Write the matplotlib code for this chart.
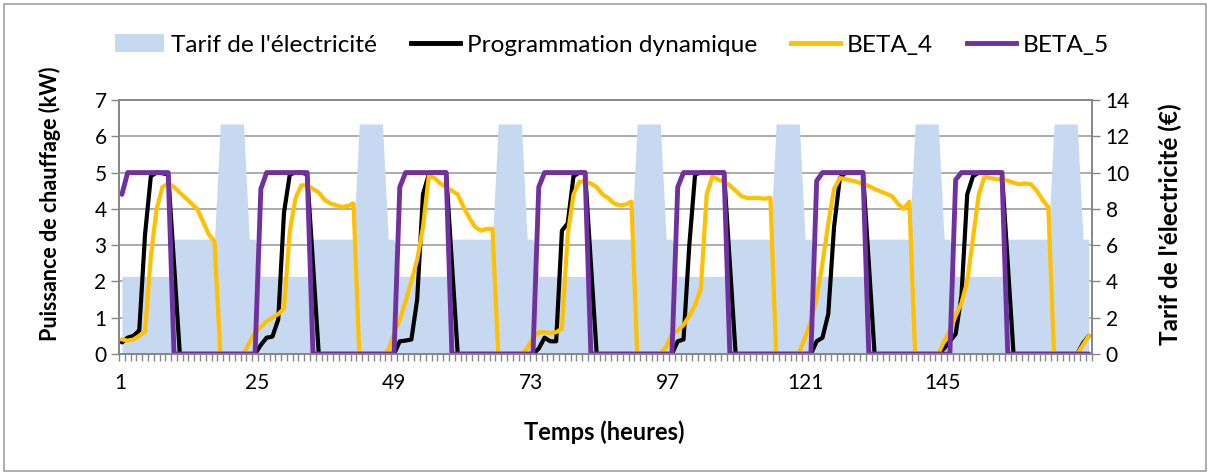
import numpy as np
import matplotlib
matplotlib.use("Agg")
import matplotlib.pyplot as plt
from matplotlib.patches import Patch, Rectangle
from matplotlib.lines import Line2D

# heures 1..168 (7 jours)
heures = np.arange(1, 169)

# tarif de l'électricité (€), axe de droite
tarif = [
    4.28, 4.28, 4.28, 4.28, 4.28, 4.28, 4.28, 4.28, 4.28, 6.33, 6.33, 6.33, 6.33, 6.33, 6.33, 6.33, 6.33, 12.68, 12.68, 12.68, 12.68, 12.68, 6.33, 6.33,
    4.28, 4.28, 4.28, 4.28, 4.28, 4.28, 4.28, 4.28, 4.28, 6.33, 6.33, 6.33, 6.33, 6.33, 6.33, 6.33, 6.33, 12.68, 12.68, 12.68, 12.68, 12.68, 6.33, 6.33,
    4.28, 4.28, 4.28, 4.28, 4.28, 4.28, 4.28, 4.28, 4.28, 6.33, 6.33, 6.33, 6.33, 6.33, 6.33, 6.33, 6.33, 12.68, 12.68, 12.68, 12.68, 12.68, 6.33, 6.33,
    4.28, 4.28, 4.28, 4.28, 4.28, 4.28, 4.28, 4.28, 4.28, 6.33, 6.33, 6.33, 6.33, 6.33, 6.33, 6.33, 6.33, 12.68, 12.68, 12.68, 12.68, 12.68, 6.33, 6.33,
    4.28, 4.28, 4.28, 4.28, 4.28, 4.28, 4.28, 4.28, 4.28, 6.33, 6.33, 6.33, 6.33, 6.33, 6.33, 6.33, 6.33, 12.68, 12.68, 12.68, 12.68, 12.68, 6.33, 6.33,
    4.28, 4.28, 4.28, 4.28, 4.28, 4.28, 4.28, 4.28, 4.28, 6.33, 6.33, 6.33, 6.33, 6.33, 6.33, 6.33, 6.33, 12.68, 12.68, 12.68, 12.68, 12.68, 6.33, 6.33,
    4.28, 4.28, 4.28, 4.28, 4.28, 4.28, 4.28, 4.28, 4.28, 6.33, 6.33, 6.33, 6.33, 6.33, 6.33, 6.33, 6.33, 12.68, 12.68, 12.68, 12.68, 12.68, 6.33, 6.33,
]

# puissance de chauffage (kW)
prog_dyn = [
    0.32, 0.45, 0.5, 0.65, 3.3, 4.9, 5.0, 4.98, 4.95, 2.5, 0, 0, 0, 0, 0, 0, 0, 0, 0, 0, 0, 0, 0, 0,
    0.25, 0.45, 0.48, 0.95, 3.9, 4.95, 5.0, 5.0, 4.95, 2.5, 0, 0, 0, 0, 0, 0, 0, 0, 0, 0, 0, 0, 0, 0,
    0.35, 0.37, 0.4, 1.5, 4.4, 4.95, 5.0, 5.0, 5.0, 2.5, 0, 0, 0, 0, 0, 0, 0, 0, 0, 0, 0, 0, 0, 0,
    0.15, 0.45, 0.35, 0.35, 3.4, 3.6, 4.9, 5.0, 5.0, 2.5, 0, 0, 0, 0, 0, 0, 0, 0, 0, 0, 0, 0, 0, 0,
    0.35, 0.4, 3.0, 4.95, 5.0, 5.0, 5.0, 5.0, 5.0, 2.5, 0, 0, 0, 0, 0, 0, 0, 0, 0, 0, 0, 0, 0, 0,
    0.35, 0.45, 1.1, 3.5, 4.85, 5.0, 5.0, 5.0, 5.0, 2.5, 0, 0, 0, 0, 0, 0, 0, 0, 0, 0, 0, 0, 0.15, 0.35,
    0.55, 1.6, 4.4, 4.9, 5.0, 5.0, 5.0, 5.0, 5.0, 2.5, 0, 0, 0, 0, 0, 0, 0, 0, 0, 0, 0, 0, 0.3, 0.5,
]

beta_4 = [
    0.4, 0.37, 0.4, 0.5, 0.62, 2.7, 4.0, 4.6, 4.7, 4.6, 4.45, 4.3, 4.15, 4.0, 3.65, 3.3, 3.1, 0, 0, 0, 0, 0, 0.3, 0.6,
    0.75, 0.9, 1.0, 1.1, 1.25, 3.4, 4.3, 4.65, 4.65, 4.55, 4.45, 4.25, 4.15, 4.1, 4.05, 4.08, 4.15, 0, 0, 0, 0, 0, 0.1, 0.55,
    0.95, 1.45, 2.0, 2.6, 3.5, 4.9, 4.85, 4.7, 4.6, 4.5, 4.4, 4.05, 3.75, 3.5, 3.4, 3.45, 3.45, 0, 0, 0, 0, 0, 0.15, 0.45,
    0.6, 0.6, 0.58, 0.6, 0.7, 3.3, 4.4, 4.75, 4.75, 4.7, 4.6, 4.4, 4.3, 4.15, 4.1, 4.12, 4.2, 0, 0, 0, 0, 0, 0.2, 0.55,
    0.65, 0.8, 1.05, 1.35, 1.8, 4.4, 4.9, 4.8, 4.75, 4.65, 4.5, 4.35, 4.3, 4.3, 4.3, 4.28, 4.3, 0, 0, 0, 0, 0.05, 0.45, 0.9,
    1.55, 2.5, 3.6, 4.55, 4.85, 4.82, 4.78, 4.74, 4.68, 4.63, 4.55, 4.48, 4.42, 4.35, 4.15, 4.0, 4.2, 0, 0, 0, 0, 0, 0.35, 0.65,
    1.05, 1.4, 2.0, 3.2, 4.4, 4.9, 4.85, 4.82, 4.8, 4.78, 4.72, 4.68, 4.7, 4.68, 4.5, 4.25, 4.05, 0, 0, 0, 0, 0, 0.25, 0.5,
]

beta_5 = [
    4.4, 5, 5, 5, 5, 5, 5, 5, 5, 0, 0, 0, 0, 0, 0, 0, 0, 0, 0, 0, 0, 0, 0, 0,
    4.55, 5, 5, 5, 5, 5, 5, 5, 5, 0, 0, 0, 0, 0, 0, 0, 0, 0, 0, 0, 0, 0, 0, 0,
    4.6, 5, 5, 5, 5, 5, 5, 5, 5, 0, 0, 0, 0, 0, 0, 0, 0, 0, 0, 0, 0, 0, 0, 0,
    4.6, 5, 5, 5, 5, 5, 5, 5, 5, 0, 0, 0, 0, 0, 0, 0, 0, 0, 0, 0, 0, 0, 0, 0,
    4.6, 5, 5, 5, 5, 5, 5, 5, 5, 0, 0, 0, 0, 0, 0, 0, 0, 0, 0, 0, 0, 0, 0, 0,
    4.77, 5, 5, 5, 5, 5, 5, 5, 5, 0, 0, 0, 0, 0, 0, 0, 0, 0, 0, 0, 0, 0, 0, 0,
    4.8, 5, 5, 5, 5, 5, 5, 5, 5, 0, 0, 0, 0, 0, 0, 0, 0, 0, 0, 0, 0, 0, 0, 0,
]

xtick_labels = ["1", "25", "49", "73", "97", "121", "145"]

plt.rcParams["font.family"] = ["Lato", "DejaVu Sans"]
grey = "#868686"

fig = plt.figure(figsize=(12.13, 4.75), dpi=100)
ax = fig.add_axes([119 / 1213, 1 - 354 / 475, 972.7 / 1213, 254 / 475])
ax2 = ax.twinx()

# area behind, lines in front
ax2.set_zorder(1)
ax.set_zorder(2)
ax.patch.set_visible(False)

ax2.fill_between(heures, tarif, color="#C6D9F1", lw=0, zorder=2)
ax2.set_ylim(0, 14)
ax2.set_yticks(np.arange(0, 15, 2))
ax2.set_axisbelow(True)
ax2.grid(axis="y", color="#a6a6a6", lw=1.3, zorder=0)

lkw = dict(solid_joinstyle="round", solid_capstyle="round")
ax.plot(heures, prog_dyn, color="black", lw=3.0, **lkw)
ax.plot(heures, beta_4, color="#FFC000", lw=3.0, **lkw)
ax.plot(heures, beta_5, color="#7030A0", lw=3.5, **lkw)

ax.set_xlim(0.5, 168.5)
ax.set_ylim(0, 7)
ax.set_yticks(range(8))

# labels shown every 24 categories (as laid out in the original)
ax.set_xticks(0.67 + np.arange(7) * 23.68, xtick_labels)
ax.set_xticks(np.arange(0.5, 169, 1), minor=True)
ax.tick_params(axis="x", which="major", length=0, pad=14, labelsize=15)
ax.tick_params(axis="x", which="minor", length=5, color=grey, width=1)
ax.tick_params(axis="y", length=6, color=grey, width=1, pad=3, labelsize=15)
ax2.tick_params(axis="y", length=6, color=grey, width=1, pad=4, labelsize=15)

for a in (ax, ax2):
    for s in a.spines.values():
        s.set_color(grey)
        s.set_linewidth(1.2)

fig.text(0.498, 1 - 432 / 475, "Temps (heures)", ha="center", va="center",
         fontsize=17, fontweight="bold")
fig.text(50 / 1213, 1 - 204 / 475, "Puissance de chauffage (kW)", ha="center",
         va="center", rotation=90, fontsize=15.5, fontweight="bold")
fig.text(1170 / 1213, 1 - 224 / 475, "Tarif de l'électricité (€)", ha="center",
         va="center", rotation=90, fontsize=17.5, fontweight="bold")

handles = [
    Patch(facecolor="#C6D9F1", edgecolor="none"),
    Line2D([], [], color="black", lw=3.5),
    Line2D([], [], color="#FFC000", lw=3.5),
    Line2D([], [], color="#7030A0", lw=3.5),
]
labels = ["Tarif de l'électricité", "Programmation dynamique", "BETA_4", "BETA_5"]
fig.legend(handles, labels, loc="center", bbox_to_anchor=(0.5046, 1 - 45 / 475),
           ncol=4, frameon=False, fontsize=17.6, handlelength=2.0,
           handletextpad=0.28, columnspacing=1.4)

fig.add_artist(Rectangle((4 / 1213, 4 / 475), 1202 / 1213, 467 / 475,
                         transform=fig.transFigure, fill=False,
                         edgecolor="#a0a0a0", lw=1.2))

fig.savefig("out.png", dpi=100)
